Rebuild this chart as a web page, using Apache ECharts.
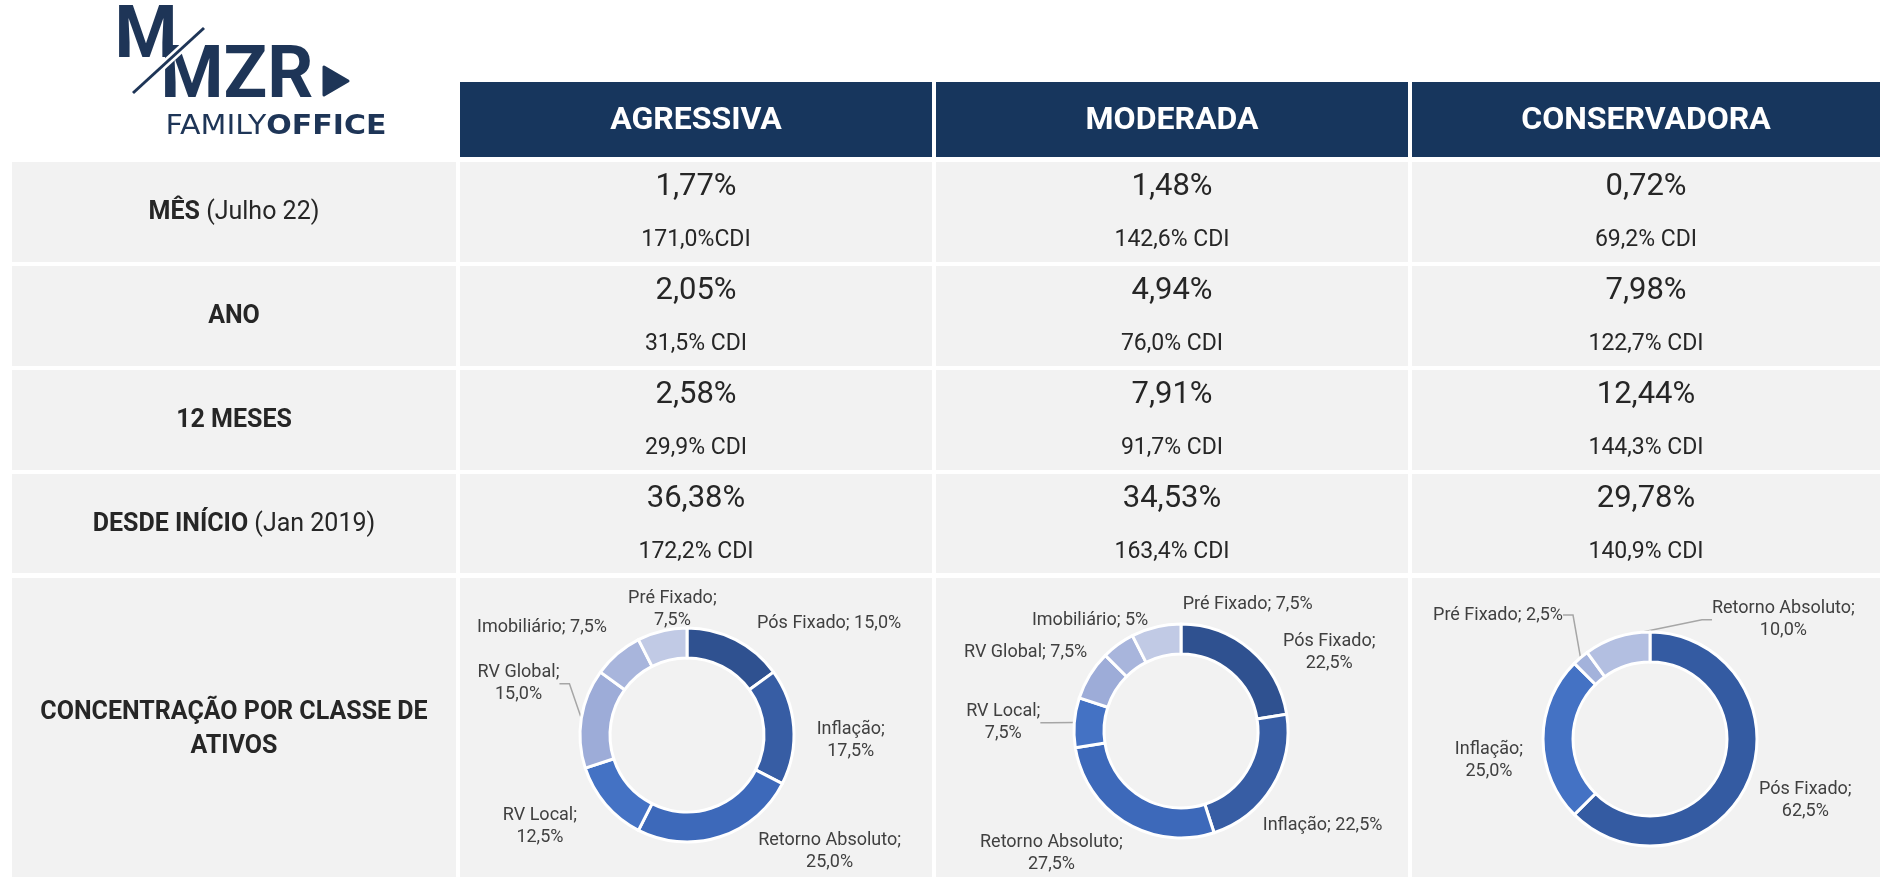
<!DOCTYPE html>
<html lang="pt-BR">
<head>
<meta charset="utf-8">
<title>MZR Family Office – Carteiras</title>
<script src="https://cdn.jsdelivr.net/npm/echarts@6/dist/echarts.min.js"></script>
<style>
  html, body { margin: 0; padding: 0; background: #fff; }
  #chart { width: 1896px; height: 888px; }
</style>
</head>
<body>
<div id="chart"></div>
<script>
// cabeçalho das colunas
const perfis = ['AGRESSIVA', 'MODERADA', 'CONSERVADORA']
// períodos (parte em negrito + complemento)
const periodos = ['MÊS', 'ANO', '12 MESES', 'DESDE INÍCIO']
const periodosNota = ['(Julho 22)', '', '', '(Jan 2019)']
const rotuloConcentracao = 'CONCENTRAÇÃO POR CLASSE DE\nATIVOS'

const retornoAgressiva = ['1,77%', '2,05%', '2,58%', '36,38%']
const cdiAgressiva = ['171,0%CDI', '31,5% CDI', '29,9% CDI', '172,2% CDI']
const retornoModerada = ['1,48%', '4,94%', '7,91%', '34,53%']
const cdiModerada = ['142,6% CDI', '76,0% CDI', '91,7% CDI', '163,4% CDI']
const retornoConservadora = ['0,72%', '7,98%', '12,44%', '29,78%']
const cdiConservadora = ['69,2% CDI', '122,7% CDI', '144,3% CDI', '140,9% CDI']

const classesAgressiva = ['Pós Fixado', 'Inflação', 'Retorno Absoluto', 'RV Local', 'RV Global', 'Imobiliário', 'Pré Fixado']
const pesosAgressiva = ['15,0', '17,5', '25,0', '12,5', '15,0', '7,5', '7,5']
const classesModerada = ['Pós Fixado', 'Inflação', 'Retorno Absoluto', 'RV Local', 'RV Global', 'Imobiliário', 'Pré Fixado']
const pesosModerada = ['22,5', '22,5', '27,5', '7,5', '7,5', '5', '7,5']
const classesConservadora = ['Pós Fixado', 'Inflação', 'Pré Fixado', 'Retorno Absoluto']
const pesosConservadora = ['62,5', '25,0', '2,5', '10,0']

// layout da tabela (px)
const NAVY = '#1e3557'
const HEADER_BG = '#17365d'
const CELL_BG = '#f2f2f2'
const TXT = '#262626'
const colunas = [[12, 456], [460, 932], [936, 1408], [1412, 1880]]
const cabecalho = [82, 157]
const linhas = [[162, 262], [266, 366], [370, 470], [474, 573], [578, 877]]

const retornos = [retornoAgressiva, retornoModerada, retornoConservadora]
const cdis = [cdiAgressiva, cdiModerada, cdiConservadora]

// aparência das rosquinhas (quebra de linha do rótulo, linha guia, ajuste do rótulo)
const rosquinhas = [
  {
    classes: classesAgressiva, pesos: pesosAgressiva, center: [687, 735],
    cores: ['#2f5190', '#375da4', '#3d69ba', '#4472c4', '#9dacd8', '#a8b5dc', '#c1cae5'],
    quebra: [false, true, true, true, true, false, true],
    guia: [false, false, false, false, true, false, false],
    ajuste: [[2, -7], [-2, 15], [20, 5], [-6, 16], [3, -33], [11, -19], [72, -12]]
  },
  {
    classes: classesModerada, pesos: pesosModerada, center: [1181, 731],
    cores: ['#2f5190', '#375da4', '#3d69ba', '#4472c4', '#9dacd8', '#a8b5dc', '#c1cae5'],
    quebra: [true, false, true, true, false, false, false],
    guia: [false, false, false, true, false, false, false],
    ajuste: [[11, 10], [-33, 33], [18, 23], [-9, 1], [21, -17], [51, -16], [174, -13]]
  },
  {
    classes: classesConservadora, pesos: pesosConservadora, center: [1650, 739],
    cores: ['#345ba2', '#4472c4', '#a3b2db', '#b3bfe1'],
    quebra: [true, true, false, true],
    guia: [false, false, true, true],
    ajuste: [[-14, 17], [5, 21], [4, -35], [256, -8]]
  }
]

const paraNumero = (s) => parseFloat(s.replace(',', '.'))

function retangulo(x0, y0, x1, y1, fill) {
  return { type: 'rect', z: 0, silent: true, shape: { x: x0, y: y0, width: x1 - x0, height: y1 - y0 }, style: { fill } }
}

function texto(x, y, text, font, fill, extra) {
  return {
    type: 'text', z: 1, silent: true, x, y,
    style: Object.assign({ text, font, fill, align: 'center', verticalAlign: 'middle' }, extra || {})
  }
}

const graficos = []

// cabeçalho
perfis.forEach((p, i) => {
  const [x0, x1] = colunas[i + 1]
  graficos.push(retangulo(x0, cabecalho[0], x1, cabecalho[1], HEADER_BG))
  graficos.push(texto((x0 + x1) / 2, (cabecalho[0] + cabecalho[1]) / 2 + 1, p, 'bold 32px Roboto', '#ffffff'))
})

// células cinzas
linhas.forEach(([y0, y1]) => {
  colunas.forEach(([x0, x1]) => graficos.push(retangulo(x0, y0, x1, y1, CELL_BG)))
})

// rótulos dos períodos
const cx0 = (colunas[0][0] + colunas[0][1]) / 2
periodos.forEach((p, r) => {
  const [y0, y1] = linhas[r]
  const nota = periodosNota[r]
  graficos.push({
    type: 'text', z: 1, silent: true, x: cx0, y: (y0 + y1) / 2 + 1,
    style: {
      text: '{b|' + p + '}' + (nota ? '{n| ' + nota + '}' : ''),
      align: 'center', verticalAlign: 'middle',
      rich: {
        b: { font: 'bold 25px Roboto', fill: TXT },
        n: { font: '25px Roboto', fill: TXT }
      }
    }
  })
})
{
  const [y0, y1] = linhas[4]
  graficos.push(texto(cx0, (y0 + y1) / 2 + 2, rotuloConcentracao, 'bold 25px Roboto', TXT, { lineHeight: 34 }))
}

// valores
retornos.forEach((serie, c) => {
  const [x0, x1] = colunas[c + 1]
  const cx = (x0 + x1) / 2
  serie.forEach((v, r) => {
    const y0 = linhas[r][0]
    graficos.push(texto(cx, y0 + 25, v, '31px Roboto', TXT))
    graficos.push(texto(cx, y0 + 78, cdis[c][r], '23px Roboto', TXT))
  })
})

// logotipo
graficos.push(texto(146, 39, 'M', 'bold 72px Roboto', NAVY))
graficos.push(texto(237, 79, 'MZR', 'bold 72px Roboto', NAVY))
graficos.push({ type: 'line', z: 2, silent: true, shape: { x1: 131, y1: 95, x2: 206, y2: 26 }, style: { stroke: '#ffffff', lineWidth: 8 } })
graficos.push({ type: 'line', z: 3, silent: true, shape: { x1: 133, y1: 93, x2: 204, y2: 28 }, style: { stroke: NAVY, lineWidth: 3 } })
graficos.push({
  type: 'polygon', z: 1, silent: true,
  shape: { points: [[324, 67], [324, 95], [348, 81]] },
  style: { fill: NAVY, stroke: NAVY, lineWidth: 3, lineJoin: 'round' }
})
graficos.push({
  type: 'text', z: 1, silent: true, x: 276, y: 127, scaleX: 1.11,
  style: {
    text: '{l|FAMILY}{b|OFFICE}', align: 'center', verticalAlign: 'middle',
    rich: {
      l: { font: '27px "DejaVu Sans"', fill: NAVY },
      b: { font: 'bold 27px "DejaVu Sans"', fill: NAVY }
    }
  }
})

// séries de rosquinha
const series = rosquinhas.map((cfg) => ({
  type: 'pie',
  z: 5,
  center: cfg.center,
  radius: [77, 107],
  startAngle: 90,
  clockwise: true,
  avoidLabelOverlap: false,
  silent: true,
  emphasis: { disabled: true },
  itemStyle: { borderColor: '#ffffff', borderWidth: 3 },
  label: {
    show: true,
    position: 'outside',
    fontFamily: 'Roboto',
    fontSize: 18,
    lineHeight: 22,
    color: '#404040',
    formatter: (p) => {
      const i = p.dataIndex
      const linhasTxt = cfg.quebra[i]
        ? [p.name + ';', cfg.pesos[i] + '%']
        : [p.name + '; ' + cfg.pesos[i] + '%']
      return linhasTxt.map((l) => '{t|' + l + '}').join('\n')
    },
    rich: {
      t: { align: 'center', fontFamily: 'Roboto', fontSize: 18, lineHeight: 22, color: '#404040' }
    }
  },
  labelLine: { show: true, length: 10, length2: 10, lineStyle: { color: '#a6a6a6', width: 1.5 } },
  // desloca o rótulo a partir da posição calculada pelo ECharts; a linha guia é refeita
  labelLayout: (params) => {
    const a = cfg.ajuste[params.dataIndex] || [0, 0]
    const r = params.labelRect
    return { x: r.x + a[0], y: r.y + a[1], align: 'left', verticalAlign: 'top' }
  },
  data: cfg.classes.map((nome, i) => ({
    name: nome,
    value: paraNumero(cfg.pesos[i]),
    itemStyle: { color: cfg.cores[i] },
    labelLine: { show: cfg.guia[i] }
  }))
}))

const chart = echarts.init(document.getElementById('chart'), null, { renderer: 'canvas' })
chart.setOption({
  backgroundColor: '#ffffff',
  animation: false,
  graphic: { elements: graficos },
  series
})
</script>
</body>
</html>
